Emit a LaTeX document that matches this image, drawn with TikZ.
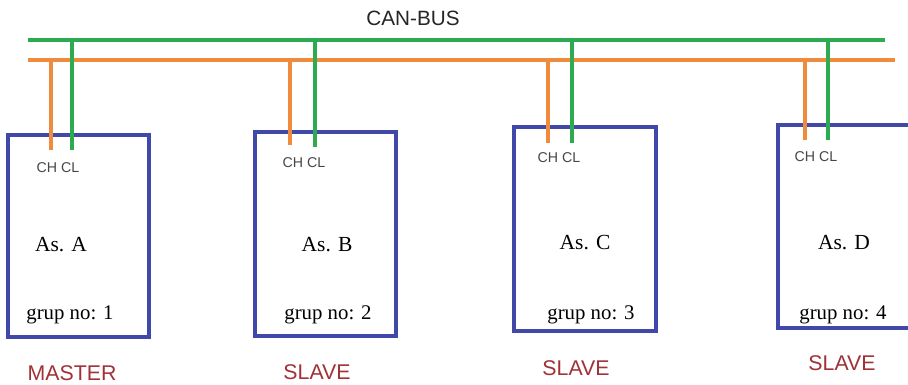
\documentclass[tikz,border=0pt]{standalone}
\usepackage{fontspec}
\setmainfont{Liberation Serif}
\newfontfamily\arialf{Liberation Sans}
\definecolor{busgreen}{RGB}{46,170,80}
\definecolor{busorange}{RGB}{240,138,60}
\definecolor{boxblue}{RGB}{64,72,170}
\definecolor{rolered}{RGB}{160,50,55}
\definecolor{pingray}{RGB}{70,70,70}
\tikzset{
  unitbox/.style={draw=boxblue, line width=3.2pt, inner sep=0pt, outer sep=0pt},
  greenwire/.style={draw=busgreen, line width=3.2pt},
  orangewire/.style={draw=busorange, line width=3.2pt},
  pinlabel/.style={font=\arialf\fontsize{14.2}{16}\selectfont, text=pingray, inner sep=0pt},
  unitname/.style={font=\fontsize{21.5}{24}\selectfont, inner sep=0pt},
  grouplabel/.style={font=\fontsize{20.8}{23}\selectfont, inner sep=0pt},
  rolelabel/.style={font=\arialf\fontsize{21.3}{24}\selectfont, text=rolered, inner sep=0pt},
  titlelabel/.style={font=\arialf\fontsize{20.7}{23}\selectfont, text=black!85, inner sep=0pt}
}
\begin{document}
\begin{tikzpicture}[x=1pt,y=-1pt]
\useasboundingbox (0,0) rectangle (908,385);
\fill[white] (0,0) rectangle (908,385);
\clip (0,0) rectangle (908,385);

% boxes
\node[unitbox, minimum width=141, minimum height=202] (A) at (78.5,236) {};
\node[unitbox, minimum width=141, minimum height=204] (B) at (325.5,234) {};
\node[unitbox, minimum width=142, minimum height=204] (C) at (585,229) {};
\node[unitbox, minimum width=150, minimum height=203] (D) at (853,226.5) {};

% bus lines
\coordinate (gL) at (28,40);
\coordinate (gR) at (885,40);
\coordinate (oL) at (28,60);
\coordinate (oR) at (895,60);
\draw[greenwire] (gL) -- (gR);
\draw[orangewire] (oL) -- (oR);

% bus taps
\coordinate (gA) at (72,40);   \coordinate (oA) at (51,60);
\coordinate (gB) at (315,40);  \coordinate (oB) at (290,60);
\coordinate (gC) at (572,40);  \coordinate (oC) at (548,60);
\coordinate (gD) at (828,40);  \coordinate (oD) at (805,60);
\coordinate (gAe) at (72,150);  \coordinate (oAe) at (51,150);
\coordinate (gBe) at (315,147); \coordinate (oBe) at (290,145);
\coordinate (gCe) at (572,143); \coordinate (oCe) at (548,143);
\coordinate (gDe) at (828,140); \coordinate (oDe) at (805,140);
\draw[orangewire] (oA) -- (oAe);
\draw[greenwire] (gA) -- (gAe);
\draw[orangewire] (oB) -- (oBe);
\draw[greenwire] (gB) -- (gBe);
\draw[orangewire] (oC) -- (oCe);
\draw[greenwire] (gC) -- (gCe);
\draw[orangewire] (oD) -- (oDe);
\draw[greenwire] (gD) -- (gDe);

% title
\node[titlelabel] (title) at (413,18) {CAN-BUS};

% pin labels
\node[pinlabel] (pA) at (58,168) {CH CL};
\node[pinlabel] (pB) at (304,163) {CH CL};
\node[pinlabel] (pC) at (559,158) {CH CL};
\node[pinlabel] (pD) at (816,157) {CH CL};

% unit names
\node[unitname] (nA) at (61,245) {As. A};
\node[unitname] (nB) at (327,245) {As. B};
\node[unitname] (nC) at (585,243) {As. C};
\node[unitname] (nD) at (844,243) {As. D};

% group labels
\node[grouplabel] (kA) at (70,315) {grup no: 1};
\node[grouplabel] (kB) at (328,315) {grup no: 2};
\node[grouplabel] (kC) at (591,315) {grup no: 3};
\node[grouplabel] (kD) at (843,315) {grup no: 4};

% roles
\node[rolelabel] (rA) at (72,373) {MASTER};
\node[rolelabel] (rB) at (317,372) {SLAVE};
\node[rolelabel] (rC) at (576,368) {SLAVE};
\node[rolelabel] (rD) at (842,363) {SLAVE};
\end{tikzpicture}
\end{document}
